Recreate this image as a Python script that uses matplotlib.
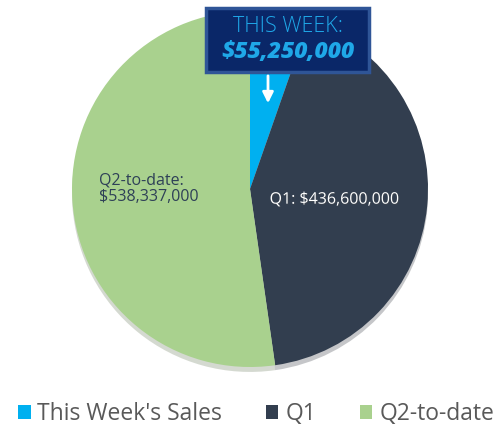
import matplotlib
matplotlib.use("Agg")
import matplotlib.pyplot as plt
from matplotlib.patches import Patch
import matplotlib.patheffects as pe

categories = ["This Week's Sales", "Q1", "Q2-to-date"]
values = [55250000, 436600000, 538337000]
colors = ["#00B0F0", "#323E4F", "#A9D18E"]

plt.rcParams['font.family'] = ['Open Sans', 'DejaVu Sans']

fig = plt.figure(figsize=(4.94, 4.28), dpi=100)
W, H = 494, 428
cx, cy, r = 250, 189, 178
ax = fig.add_axes((( cx - r) / W, (H - cy - r) / H, 2 * r / W, 2 * r / H))
ax.set_aspect('equal')

wedges, _ = ax.pie(values, colors=colors, startangle=90, counterclock=False,
                   radius=1, wedgeprops=dict(linewidth=0),
                   shadow=dict(ox=0.0, oy=-0.02, shade=0.5, alpha=0.25))
ax.set_xlim(-1, 1)
ax.set_ylim(-1, 1)

ax.text(-0.85, 0.0, "Q2-to-date:\n$" + f"{values[2]:,}", color="#2E4057",
        fontsize=11.5, ha='left', va='center', linespacing=1.05)
ax.text(0.11, -0.06, "Q1: $" + f"{values[1]:,}", color="white",
        fontsize=11.5, ha='left', va='center',
        path_effects=[pe.withSimplePatchShadow(offset=(0.6, -0.6), alpha=0.4)])

# callout box
bx0, by0, bx1, by1 = 206, 8, 369, 72
box = plt.Rectangle((bx0 / W, 1 - by1 / H), (bx1 - bx0) / W, (by1 - by0) / H,
                    transform=fig.transFigure, facecolor="#0A2768",
                    edgecolor="#2F5597", linewidth=2.5, zorder=5)
fig.patches.append(box)
fig.text((bx0 + bx1) / 2 / W, 1 - 27 / H, "THIS WEEK:", color="#1FA8E8",
         fontsize=15.5, fontweight='light', ha='center', va='center', zorder=6)
fig.text((bx0 + bx1) / 2 / W, 1 - 52 / H, "$" + f"{values[0]:,}", color="#1FA8E8",
         fontsize=16.5, fontweight='heavy', fontstyle='italic', ha='center', va='center', zorder=6)
ax.annotate("", xy=(268 / W, 1 - 106 / H), xytext=(268 / W, 1 - 73 / H),
            xycoords='figure fraction', textcoords='figure fraction',
            arrowprops=dict(arrowstyle='-|>', color='white', lw=2, mutation_scale=16))

handles = [Patch(facecolor=c, edgecolor='none') for c in colors]
fig.legend(handles, categories, loc='center', bbox_to_anchor=(256 / W, 1 - 414 / H),
           ncol=3, frameon=False, fontsize=16.5, labelcolor="#595959",
           handlelength=0.55, handleheight=0.55, handletextpad=0.3, columnspacing=1.9)

fig.savefig("out.png", dpi=100)
